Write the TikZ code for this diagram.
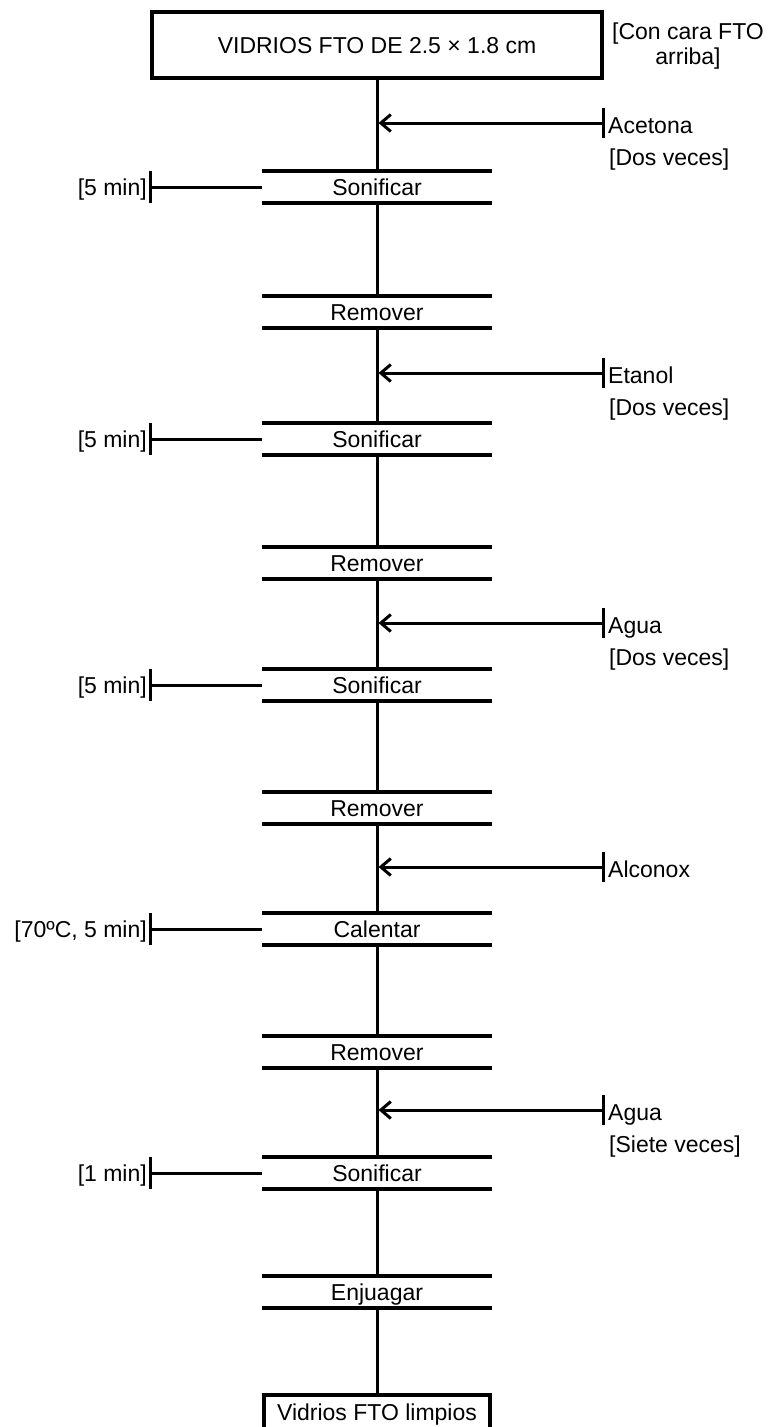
\documentclass[tikz,border=0pt]{standalone}
\usepackage{fontspec}
\setmainfont{Liberation Sans}
\usetikzlibrary{arrows.meta}
\begin{document}
\begin{tikzpicture}[x=1pt,y=-1pt,
  every node/.style={font=\fontsize{23}{27}\selectfont, inner sep=0pt},
  stepbox/.style={minimum width=229pt, minimum height=32pt, text height=16.5pt, text depth=0pt},
  endbox/.style={draw, line width=4pt, text height=16.5pt, text depth=0pt},
  bar/.style={line width=4pt},
  flow/.style={line width=3pt},
  feed/.style={line width=3pt, -{Straight Barb[length=10pt,width=17pt]}},
  tickline/.style={line width=3pt},
  lbl/.style={anchor=base west},
  lbr/.style={anchor=base east}
]
\useasboundingbox (0,0) rectangle (769,1427);
\fill[white] (0,0) rectangle (769,1427);

% start and end boxes
\node[endbox, line width=4.5pt, minimum width=450pt, minimum height=66pt] (top) at (377,45) {VIDRIOS FTO DE 2.5 × 1.8 cm};
\node[anchor=base] (n1) at (688,39) {[Con cara FTO};
\node[anchor=base] (n2) at (688,64) {arriba]};
\node[endbox, minimum width=226pt, minimum height=34pt] (fin) at (377,1412) {Vidrios FTO limpios};

% steps
\node[stepbox] (s1) at (377,187) {Sonificar};
\node[stepbox] (r1) at (377,312) {Remover};
\node[stepbox] (s2) at (377,439) {Sonificar};
\node[stepbox] (r2) at (377,563) {Remover};
\node[stepbox] (s3) at (377,685) {Sonificar};
\node[stepbox] (r3) at (377,808) {Remover};
\node[stepbox] (c1) at (377,929) {Calentar};
\node[stepbox] (r4) at (377,1052) {Remover};
\node[stepbox] (s4) at (377,1173) {Sonificar};
\node[stepbox] (e1) at (377,1292) {Enjuagar};

\foreach \n in {s1,r1,s2,r2,s3,r3,c1,r4,s4,e1}{
  \draw[bar] (\n.north west) -- (\n.north east);
  \draw[bar] (\n.south west) -- (\n.south east);
}

% main flow
\draw[flow] (top.south) -- (s1.north);
\draw[flow] (s1.south) -- (r1.north);
\draw[flow] (r1.south) -- (s2.north);
\draw[flow] (s2.south) -- (r2.north);
\draw[flow] (r2.south) -- (s3.north);
\draw[flow] (s3.south) -- (r3.north);
\draw[flow] (r3.south) -- (c1.north);
\draw[flow] (c1.south) -- (r4.north);
\draw[flow] (r4.south) -- (s4.north);
\draw[flow] (s4.south) -- (e1.north);
\draw[flow] (e1.south) -- (fin.north);

% inputs from the right
\coordinate (i1) at (603,123);  \coordinate (j1) at (378.5,123);
\coordinate (i2) at (603,373);  \coordinate (j2) at (378.5,373);
\coordinate (i3) at (603,623);  \coordinate (j3) at (378.5,623);
\coordinate (i4) at (603,867);  \coordinate (j4) at (378.5,867);
\coordinate (i5) at (603,1110); \coordinate (j5) at (378.5,1110);
\foreach \k in {1,...,5}{
  \draw[feed] (i\k) -- (j\k);
  \draw[tickline] (i\k) ++(0,-15) -- ++(0,30);
}
\node[lbl] (a1) at (608,133) {Acetona};
\node[lbl] (a1b) at (609,165) {[Dos veces]};
\node[lbl] (a2) at (608,383) {Etanol};
\node[lbl] (a2b) at (609,415) {[Dos veces]};
\node[lbl] (a3) at (608,633) {Agua};
\node[lbl] (a3b) at (609,665) {[Dos veces]};
\node[lbl] (a4) at (608,877) {Alconox};
\node[lbl] (a5) at (608,1120) {Agua};
\node[lbl] (a5b) at (609,1152) {[Siete veces]};

% conditions on the left
\coordinate (t1) at (150,187);
\coordinate (t2) at (150,439);
\coordinate (t3) at (150,685);
\coordinate (t4) at (150,929);
\coordinate (t5) at (150,1173);
\draw[flow] (t1) -- (s1.west);
\draw[flow] (t2) -- (s2.west);
\draw[flow] (t3) -- (s3.west);
\draw[flow] (t4) -- (c1.west);
\draw[flow] (t5) -- (s4.west);
\foreach \k in {1,...,5}{
  \draw[tickline] (t\k) ++(0,-16) -- ++(0,32);
}
\node[lbr] (b1) at (147,195) {[5 min]};
\node[lbr] (b2) at (147,447) {[5 min]};
\node[lbr] (b3) at (147,693) {[5 min]};
\node[lbr] (b4) at (147,937) {[70ºC, 5 min]};
\node[lbr] (b5) at (147,1181) {[1 min]};
\end{tikzpicture}
\end{document}
